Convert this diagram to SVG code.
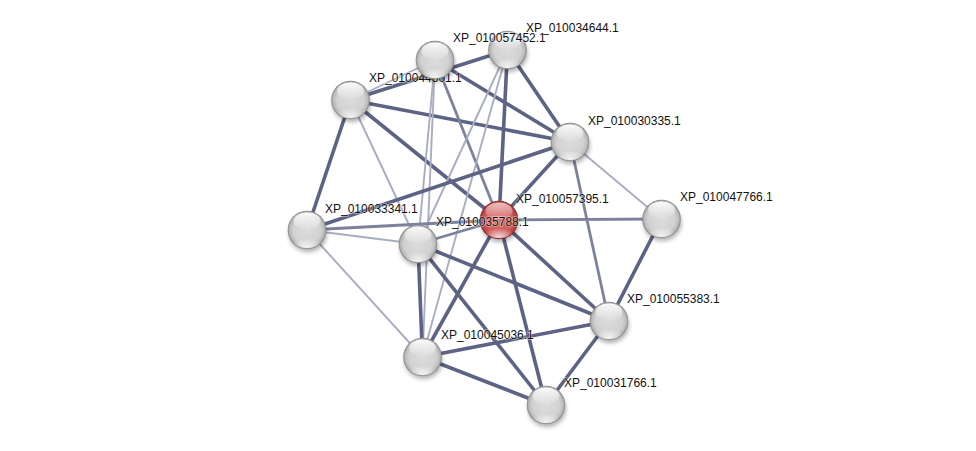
<svg xmlns="http://www.w3.org/2000/svg" width="976" height="451" viewBox="0 0 976 451">
<defs>
<radialGradient id="gBody" cx="0.5" cy="0.5" r="0.5">
<stop offset="0" stop-color="#dcdcdc"/>
<stop offset="0.7" stop-color="#d2d2d2"/>
<stop offset="0.9" stop-color="#bababa"/>
<stop offset="1" stop-color="#858585"/>
</radialGradient>
<radialGradient id="rBody" cx="0.5" cy="0.5" r="0.5">
<stop offset="0" stop-color="#dc6e6e"/>
<stop offset="0.7" stop-color="#d05a5a"/>
<stop offset="0.9" stop-color="#b84444"/>
<stop offset="1" stop-color="#8c2424"/>
</radialGradient>
<linearGradient id="hl" x1="0" y1="0" x2="0" y2="1">
<stop offset="0" stop-color="#ffffff" stop-opacity="0.95"/>
<stop offset="1" stop-color="#ffffff" stop-opacity="0.05"/>
</linearGradient>
<radialGradient id="glow" cx="0.5" cy="1" r="0.7">
<stop offset="0" stop-color="#ffffff" stop-opacity="0.9"/>
<stop offset="1" stop-color="#ffffff" stop-opacity="0"/>
</radialGradient>
<filter id="blur" x="-50%" y="-50%" width="200%" height="200%">
<feGaussianBlur stdDeviation="2"/>
</filter>
<g id="gnode">
<ellipse cx="1" cy="4" rx="19" ry="18" fill="#000" opacity="0.3" filter="url(#blur)"/>
<circle r="19.3" fill="url(#gBody)"/>
<ellipse cx="0" cy="11" rx="13" ry="7" fill="url(#glow)"/>
<ellipse cx="0" cy="-9" rx="13.5" ry="8.5" fill="url(#hl)"/>
</g>
<g id="rnode">
<ellipse cx="1" cy="4" rx="19" ry="18" fill="#000" opacity="0.3" filter="url(#blur)"/>
<circle r="19.3" fill="url(#rBody)"/>
<ellipse cx="0" cy="11" rx="13" ry="7" fill="url(#glow)"/>
<ellipse cx="0" cy="-9" rx="13.5" ry="8.5" fill="url(#hl)" opacity="0.7"/>
</g>
</defs>
<style>
.s{stroke:#5c6384;stroke-width:3.6}
.m{stroke:#7c829e;stroke-width:2.8}
.l{stroke:#a9adc0;stroke-width:1.9}
text{font-family:"Liberation Sans",Arial,sans-serif;font-size:12px;fill:#111;paint-order:stroke;stroke:#ffffff;stroke-width:1.5px;stroke-opacity:0.5}
</style>
<rect width="976" height="451" fill="#ffffff"/>
<g id="edges">
<line class="l" x1="350.5" y1="100" x2="435" y2="60"/>
<line class="s" x1="350.5" y1="100" x2="507.5" y2="50"/>
<line class="s" x1="350.5" y1="100" x2="570" y2="142"/>
<line class="s" x1="350.5" y1="100" x2="307" y2="230"/>
<line class="s" x1="350.5" y1="100" x2="499" y2="220"/>
<line class="l" x1="350.5" y1="100" x2="418" y2="244"/>
<line class="s" x1="435" y1="60" x2="570" y2="142"/>
<line class="m" x1="435" y1="60" x2="499" y2="220"/>
<line class="l" x1="435" y1="60" x2="418" y2="244"/>
<line class="l" x1="435" y1="60" x2="422.5" y2="357"/>
<line class="s" x1="507.5" y1="50" x2="570" y2="142"/>
<line class="s" x1="507.5" y1="50" x2="499" y2="220"/>
<line class="l" x1="507.5" y1="50" x2="418" y2="244"/>
<line class="l" x1="507.5" y1="50" x2="422.5" y2="357"/>
<line class="s" x1="570" y1="142" x2="307" y2="230"/>
<line class="s" x1="570" y1="142" x2="499" y2="220"/>
<line class="l" x1="570" y1="142" x2="661.5" y2="219"/>
<line class="m" x1="570" y1="142" x2="609" y2="321"/>
<line class="m" x1="307" y1="230" x2="499" y2="220"/>
<line class="l" x1="307" y1="230" x2="418" y2="244"/>
<line class="l" x1="307" y1="230" x2="422.5" y2="357"/>
<line class="m" x1="418" y1="244" x2="499" y2="220"/>
<line class="s" x1="418" y1="244" x2="422.5" y2="357"/>
<line class="s" x1="418" y1="244" x2="546" y2="405"/>
<line class="s" x1="418" y1="244" x2="609" y2="321"/>
<line class="m" x1="499" y1="220" x2="661.5" y2="219"/>
<line class="s" x1="499" y1="220" x2="609" y2="321"/>
<line class="s" x1="499" y1="220" x2="546" y2="405"/>
<line class="s" x1="499" y1="220" x2="422.5" y2="357"/>
<line class="s" x1="661.5" y1="219" x2="609" y2="321"/>
<line class="s" x1="609" y1="321" x2="546" y2="405"/>
<line class="s" x1="609" y1="321" x2="422.5" y2="357"/>
<line class="s" x1="422.5" y1="357" x2="546" y2="405"/>
</g>
<g id="n_XP_010044801"><use href="#gnode" x="350.5" y="100"/><text x="369" y="82">XP_010044801.1</text></g>
<g id="n_XP_010034644"><use href="#gnode" x="507.5" y="50"/><text x="526" y="32">XP_010034644.1</text></g>
<g id="n_XP_010057452"><use href="#gnode" x="435" y="60"/><text x="453" y="42">XP_010057452.1</text></g>
<g id="n_XP_010030335"><use href="#gnode" x="570" y="142"/><text x="588" y="125">XP_010030335.1</text></g>
<g id="n_XP_010057395"><use href="#rnode" x="499" y="220"/><text x="516" y="203">XP_010057395.1</text></g>
<g id="n_XP_010047766"><use href="#gnode" x="661.5" y="219"/><text x="680" y="201">XP_010047766.1</text></g>
<g id="n_XP_010033341"><use href="#gnode" x="307" y="230"/><text x="325" y="212.5">XP_010033341.1</text></g>
<g id="n_XP_010035788"><use href="#gnode" x="418" y="244"/><text x="436" y="226">XP_010035788.1</text></g>
<g id="n_XP_010055383"><use href="#gnode" x="609" y="321"/><text x="627" y="303">XP_010055383.1</text></g>
<g id="n_XP_010045036"><use href="#gnode" x="422.5" y="357"/><text x="441" y="339">XP_010045036.1</text></g>
<g id="n_XP_010031766"><use href="#gnode" x="546" y="405"/><text x="564" y="387">XP_010031766.1</text></g>
</svg>
